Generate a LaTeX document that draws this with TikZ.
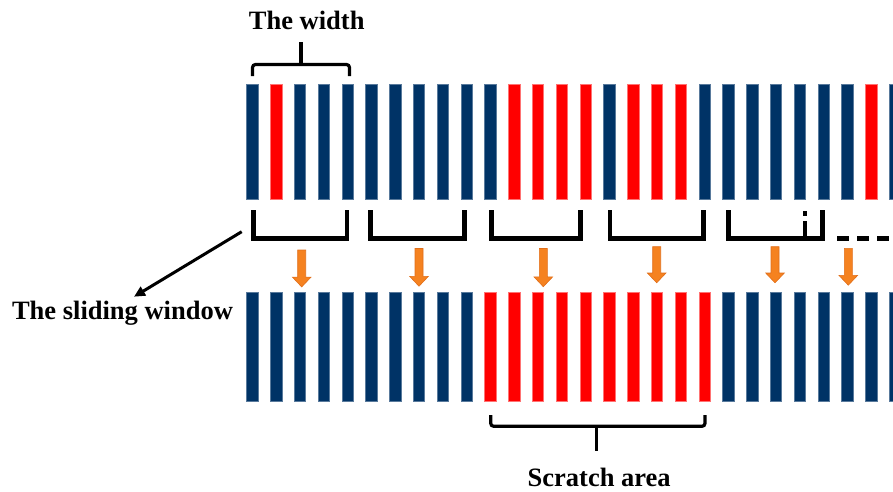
\documentclass[tikz,border=0pt]{standalone}
\usepackage{fontspec}
\setmainfont{Liberation Serif}
\usetikzlibrary{arrows.meta}
\definecolor{barblue}{RGB}{0,51,102}
\definecolor{barred}{RGB}{255,0,0}
\definecolor{arrowfill}{RGB}{245,130,32}
\definecolor{arrowedge}{RGB}{225,110,25}

\begin{document}
\begin{tikzpicture}[x=1pt,y=-1pt,
  bar/.style={line width=0.6pt},
  bluebar/.style={bar, fill=barblue, draw=barblue!65!white},
  redbar/.style={bar, fill=barred, draw=barred!55!white},
  window/.style={line width=4.5pt},
  brace/.style={line width=3.2pt, rounded corners=3pt},
  pointer/.style={line width=3pt, -{Triangle[length=11pt,width=10pt]}},
  label/.style={font=\bfseries\fontsize{26.5}{30}\selectfont, inner sep=0pt, anchor=base},
  flow/.style={fill=arrowfill, draw=arrowedge, line width=0.6pt, line join=miter}]

\useasboundingbox (0,0) rectangle (893,491);
\clip (0,0) rectangle (893,491);

% data row before the scratch pass
\foreach \c [count=\n from 0] in {bluebar,redbar,bluebar,bluebar,bluebar,
    bluebar,bluebar,bluebar,bluebar,bluebar,
    bluebar,redbar,redbar,redbar,redbar,
    bluebar,redbar,redbar,redbar,bluebar,
    bluebar,bluebar,bluebar,bluebar,bluebar,
    bluebar,redbar,bluebar}
  \draw[\c] (246.7+23.8*\n,84) rectangle ++(11.3,115);

% data row after the scratch pass
\foreach \c [count=\n from 0] in {bluebar,bluebar,bluebar,bluebar,bluebar,
    bluebar,bluebar,bluebar,bluebar,bluebar,
    redbar,redbar,redbar,redbar,redbar,
    redbar,redbar,redbar,redbar,redbar,
    bluebar,bluebar,bluebar,bluebar,bluebar,
    bluebar,bluebar,bluebar}
  \draw[\c] (246.7+23.8*\n,292) rectangle ++(11.3,109);

% sliding window brackets
\foreach \l/\r in {253.3/347.2, 370.5/464.5, 491.6/580.3, 610/703.3, 728.3/822.5}
  \draw[window] (\l,210) -- (\l,238.4) -- (\r,238.4) -- (\r,210);
\draw[window] (805,211) -- (805,216);
\draw[window] (805,221) -- (805,238.4);
\draw[window, dash pattern=on 12pt off 8pt] (837,238.4) -- (893,238.4);

% block arrows from each window down to the lower row
\foreach \x/\t/\p in {301.7/250/286.9, 419/248.5/286.2, 543.3/248.5/286.7,
    656.7/246.7/282.8, 775/246.7/282.8, 848.3/248.3/285.2}
  \draw[flow] (\x-4,\t) -- (\x+4,\t) -- (\x+4,\p-9.8) -- (\x+9.3,\p-9.8)
    -- (\x,\p) -- (\x-9.3,\p-9.8) -- (\x-4,\p-9.8) -- cycle;

% width brace
\draw[brace] (252.5,76) -- (252.5,64.5) -- (349.5,64.5) -- (349.5,76);
\draw[brace] (301,64.5) -- (301,42);

% scratch area brace
\draw[brace] (490.7,415) -- (490.7,426.3) -- (705,426.3) -- (705,415);
\draw[brace] (596.7,426.3) -- (596.7,450.7);

% labels
\node[label] (width) at (306.7,29.5) {The width};
\node[label] (sliding) at (122.5,319) {The sliding window};
\node[label] (scratch) at (599.2,486) {Scratch area};

% pointer to the sliding window label
\coordinate (swtail) at (241.7,231.7);
\coordinate (swtip) at (134,296.7);
\draw[pointer] (swtail) -- (swtip);
\end{tikzpicture}
\end{document}
